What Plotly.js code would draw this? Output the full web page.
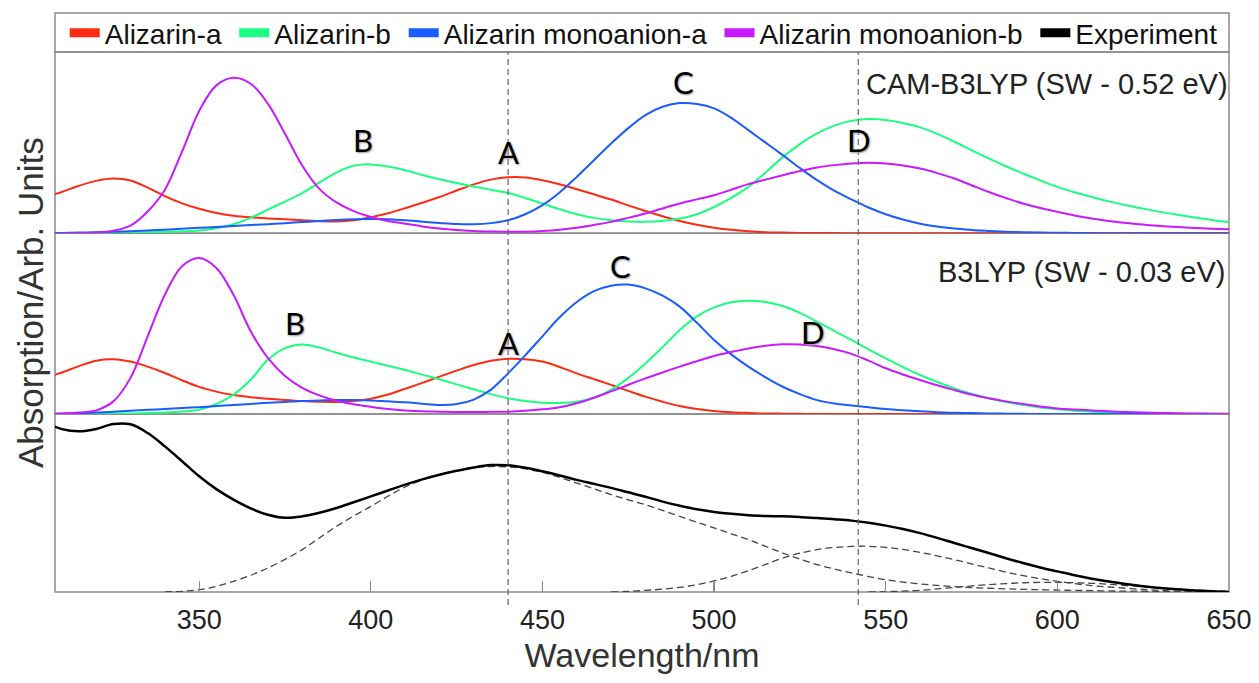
<!DOCTYPE html>
<html>
<head>
<meta charset="utf-8">
<script src="https://cdn.plot.ly/plotly-3.0.1.min.js"></script>
<style>html,body{margin:0;padding:0;background:#fff;}#chart{width:1259px;height:683px;}</style>
</head>
<body>
<div id="chart"></div>
<script>
// ---- Data ----
const seriesNames = ["Alizarin-a", "Alizarin-b", "Alizarin monoanion-a", "Alizarin monoanion-b", "Experiment"];
const panelLabels = ["CAM-B3LYP (SW - 0.52 eV)", "B3LYP (SW - 0.03 eV)"];
const peakLetters = ["A", "B", "C", "D"];
const markerWavelengths = [440, 542];
const tickWavelengths = [350, 400, 450, 500, 550, 600, 650];

const wl = [305, 310, 315, 320, 325, 330, 335, 340, 345, 350, 355, 360, 365, 370, 375, 380, 385, 390, 395, 400,
            405, 410, 415, 420, 425, 430, 435, 440, 445, 450, 455, 460, 465, 470, 475, 480, 485, 490, 495, 500,
            505, 510, 515, 520, 525, 530, 535, 540, 545, 550, 555, 560, 565, 570, 575, 580, 585, 590, 595, 600,
            605, 610, 615, 620, 625, 630, 635, 640, 645, 650];

// CAM-B3LYP panel
const camRed = [0.200, 0.228, 0.262, 0.289, 0.302, 0.291, 0.252, 0.205, 0.165, 0.135, 0.112, 0.097, 0.088, 0.082, 0.077, 0.072, 0.067, 0.065, 0.072, 0.088,
                0.110, 0.138, 0.168, 0.200, 0.236, 0.270, 0.296, 0.309, 0.308, 0.293, 0.270, 0.243, 0.215, 0.186, 0.154, 0.123, 0.094, 0.068, 0.047, 0.031,
                0.019, 0.011, 0.006, 0.004, 0.002, 0.001, 0.001, 0, 0, 0, 0, 0, 0, 0, 0, 0, 0, 0, 0, 0,
                0, 0, 0, 0, 0, 0, 0, 0, 0, 0];
const camGreen = [0, 0, 0, 0.001, 0.002, 0.003, 0.005, 0.008, 0.011, 0.016, 0.028, 0.050, 0.085, 0.130, 0.175, 0.222, 0.280, 0.335, 0.372, 0.380,
                  0.368, 0.348, 0.322, 0.298, 0.277, 0.258, 0.240, 0.222, 0.195, 0.164, 0.133, 0.105, 0.085, 0.072, 0.065, 0.063, 0.068, 0.081, 0.105, 0.145,
                  0.195, 0.256, 0.335, 0.420, 0.492, 0.551, 0.594, 0.620, 0.630, 0.625, 0.608, 0.584, 0.548, 0.505, 0.459, 0.413, 0.370, 0.330, 0.292, 0.256,
                  0.226, 0.200, 0.176, 0.155, 0.136, 0.118, 0.102, 0.087, 0.073, 0.061];
const camBlue = [0, 0.002, 0.004, 0.006, 0.008, 0.011, 0.015, 0.020, 0.025, 0.030, 0.035, 0.040, 0.045, 0.050, 0.056, 0.062, 0.068, 0.073, 0.077, 0.079,
                 0.077, 0.072, 0.064, 0.057, 0.051, 0.050, 0.056, 0.072, 0.105, 0.155, 0.225, 0.311, 0.403, 0.495, 0.580, 0.652, 0.698, 0.718, 0.713, 0.689,
                 0.637, 0.569, 0.500, 0.431, 0.360, 0.293, 0.235, 0.187, 0.142, 0.105, 0.076, 0.053, 0.037, 0.026, 0.018, 0.013, 0.009, 0.006, 0.004, 0.003,
                 0.002, 0.001, 0, 0, 0, 0, 0, 0, 0, 0];
const camMagenta = [0, 0, 0.001, 0.004, 0.014, 0.042, 0.120, 0.240, 0.450, 0.675, 0.816, 0.858, 0.825, 0.715, 0.549, 0.374, 0.245, 0.170, 0.122, 0.090,
                    0.068, 0.053, 0.038, 0.026, 0.018, 0.013, 0.010, 0.008, 0.009, 0.013, 0.020, 0.031, 0.046, 0.063, 0.085, 0.109, 0.137, 0.164, 0.187, 0.210,
                    0.240, 0.271, 0.296, 0.320, 0.343, 0.363, 0.376, 0.385, 0.389, 0.385, 0.374, 0.357, 0.332, 0.302, 0.265, 0.228, 0.195, 0.164, 0.139, 0.118,
                    0.098, 0.081, 0.068, 0.057, 0.048, 0.040, 0.034, 0.029, 0.025, 0.022];

// B3LYP panel
const b3Red = [0.200, 0.230, 0.265, 0.295, 0.303, 0.290, 0.262, 0.227, 0.187, 0.150, 0.124, 0.105, 0.093, 0.085, 0.078, 0.072, 0.068, 0.066, 0.072, 0.085,
               0.108, 0.140, 0.172, 0.207, 0.240, 0.271, 0.295, 0.306, 0.303, 0.290, 0.260, 0.225, 0.193, 0.161, 0.128, 0.096, 0.068, 0.044, 0.028, 0.017,
               0.010, 0.006, 0.003, 0.002, 0.001, 0, 0, 0, 0, 0, 0, 0, 0, 0, 0, 0, 0, 0, 0, 0,
               0, 0, 0, 0, 0, 0, 0, 0, 0, 0];
const b3Green = [0, 0, 0, 0.001, 0.002, 0.003, 0.005, 0.008, 0.014, 0.024, 0.055, 0.107, 0.190, 0.300, 0.365, 0.385, 0.368, 0.339, 0.313, 0.290,
                 0.267, 0.244, 0.218, 0.192, 0.164, 0.137, 0.110, 0.087, 0.072, 0.063, 0.061, 0.068, 0.090, 0.133, 0.200, 0.280, 0.370, 0.465, 0.540, 0.590,
                 0.618, 0.627, 0.620, 0.598, 0.560, 0.511, 0.460, 0.410, 0.358, 0.308, 0.260, 0.216, 0.177, 0.142, 0.112, 0.087, 0.066, 0.050, 0.036, 0.026,
                 0.018, 0.013, 0.009, 0.007, 0.005, 0.003, 0.002, 0.001, 0.001, 0];
const b3Blue = [0, 0.002, 0.005, 0.008, 0.013, 0.018, 0.023, 0.028, 0.033, 0.038, 0.044, 0.050, 0.056, 0.062, 0.067, 0.072, 0.075, 0.077, 0.077, 0.075,
                0.070, 0.065, 0.057, 0.050, 0.055, 0.080, 0.135, 0.225, 0.325, 0.430, 0.535, 0.620, 0.680, 0.710, 0.716, 0.695, 0.655, 0.594, 0.505, 0.410,
                0.330, 0.262, 0.203, 0.151, 0.110, 0.077, 0.058, 0.047, 0.037, 0.028, 0.021, 0.015, 0.010, 0.007, 0.005, 0.003, 0.002, 0.001, 0, 0,
                0, 0, 0, 0, 0, 0, 0, 0, 0, 0];
const b3Magenta = [0, 0.003, 0.008, 0.020, 0.070, 0.200, 0.430, 0.660, 0.817, 0.863, 0.808, 0.660, 0.458, 0.310, 0.210, 0.145, 0.103, 0.073, 0.054, 0.040,
                   0.028, 0.020, 0.015, 0.013, 0.011, 0.011, 0.012, 0.013, 0.018, 0.026, 0.038, 0.060, 0.090, 0.125, 0.162, 0.197, 0.230, 0.262, 0.292, 0.321,
                   0.343, 0.363, 0.378, 0.386, 0.385, 0.376, 0.358, 0.333, 0.295, 0.253, 0.219, 0.188, 0.159, 0.133, 0.108, 0.087, 0.070, 0.055, 0.042, 0.031,
                   0.025, 0.020, 0.015, 0.011, 0.008, 0.006, 0.004, 0.003, 0.002, 0.002];

// Experiment panel
const experiment = [0.955, 0.915, 0.903, 0.916, 0.944, 0.942, 0.893, 0.818, 0.735, 0.650, 0.578, 0.519, 0.470, 0.434, 0.417, 0.425, 0.445, 0.472, 0.504, 0.537,
                    0.570, 0.603, 0.633, 0.659, 0.681, 0.700, 0.713, 0.712, 0.698, 0.678, 0.655, 0.630, 0.608, 0.585, 0.560, 0.535, 0.508, 0.485, 0.465, 0.450,
                    0.439, 0.431, 0.427, 0.425, 0.421, 0.416, 0.409, 0.401, 0.389, 0.373, 0.354, 0.331, 0.304, 0.275, 0.247, 0.219, 0.190, 0.163, 0.138, 0.116,
                    0.094, 0.075, 0.059, 0.045, 0.032, 0.022, 0.015, 0.009, 0.004, 0.000];
const wlFit1 = [340, 345, 350, 355, 360, 365, 370, 375, 380, 385, 390, 395, 400, 405, 410, 415, 420, 425, 430, 435, 440, 445, 450, 455, 460, 465,
                470, 475, 480, 485, 490, 495, 500, 505, 510, 515, 520, 525, 530, 535, 540, 545, 550, 555, 560, 565, 570, 575, 580, 585, 590, 595,
                600, 605, 610, 615, 620, 625, 630, 635, 640];
const fit1 = [0, 0.004, 0.013, 0.032, 0.060, 0.094, 0.135, 0.183, 0.238, 0.303, 0.369, 0.427, 0.481, 0.538, 0.590, 0.630, 0.659, 0.681, 0.697, 0.705, 0.703, 0.692, 0.672, 0.645, 0.612, 0.580,
              0.547, 0.518, 0.490, 0.458, 0.425, 0.392, 0.360, 0.327, 0.294, 0.256, 0.219, 0.185, 0.154, 0.129, 0.107, 0.087, 0.069, 0.056, 0.045, 0.037, 0.030, 0.025, 0.021, 0.018, 0.015, 0.013,
              0.011, 0.009, 0.008, 0.006, 0.005, 0.004, 0.003, 0.001, 0];
const wlFit2 = [470, 475, 480, 485, 490, 495, 500, 505, 510, 515, 520, 525, 530, 535, 540, 545, 550, 555, 560, 565, 570, 575, 580, 585, 590, 595,
                600, 605, 610, 615, 620, 625, 630, 635, 640, 645, 650];
const fit2 = [0, 0.003, 0.009, 0.016, 0.026, 0.041, 0.062, 0.088, 0.120, 0.155, 0.191, 0.218, 0.238, 0.250, 0.256, 0.257, 0.251, 0.239, 0.223, 0.203, 0.182, 0.158, 0.135, 0.112, 0.092, 0.075,
              0.060, 0.047, 0.036, 0.028, 0.021, 0.014, 0.009, 0.005, 0.002, 0.001, 0];
const wlFit3 = [545, 550, 555, 560, 565, 570, 575, 580, 585, 590, 595, 600, 605, 610, 615, 620, 625, 630, 635, 640, 645, 650];
const fit3 = [0, 0.002, 0.005, 0.009, 0.017, 0.026, 0.034, 0.041, 0.047, 0.052, 0.054, 0.054, 0.052, 0.049, 0.043, 0.036, 0.029, 0.022, 0.016, 0.011, 0.007, 0.004];

// ---- Styles ----
const colors = ["#ff2a12", "#1aff80", "#1a5cff", "#c81aff", "#000000"];
const TXT = "Liberation Sans, Arial, sans-serif";
const LETTER = "Lato, Open Sans, sans-serif";
const frameColor = "#8a8a8a";

function curve(x, y, color, yaxis) {
  return {x: x, y: y, xaxis: "x", yaxis: yaxis, type: "scatter", mode: "lines",
    line: {color: color, width: 2, shape: "spline", smoothing: 1},
    showlegend: false, hoverinfo: "skip"};
}
function fit(x, y) {
  return {x: x, y: y, xaxis: "x", yaxis: "y", type: "scatter", mode: "lines",
    line: {color: "#444", width: 1.3, dash: "7px,4px", shape: "spline", smoothing: 1},
    showlegend: false, hoverinfo: "skip"};
}

const traces = [
  curve(wl, camRed, colors[0], "y3"),
  curve(wl, camGreen, colors[1], "y3"),
  curve(wl, camBlue, colors[2], "y3"),
  curve(wl, camMagenta, colors[3], "y3"),
  curve(wl, b3Red, colors[0], "y2"),
  curve(wl, b3Green, colors[1], "y2"),
  curve(wl, b3Blue, colors[2], "y2"),
  curve(wl, b3Magenta, colors[3], "y2"),
  fit(wlFit1, fit1), fit(wlFit2, fit2), fit(wlFit3, fit3),
  {x: wl, y: experiment, xaxis: "x", yaxis: "y", type: "scatter", mode: "lines",
   line: {color: "#000", width: 2.5, shape: "spline", smoothing: 1}, showlegend: false, hoverinfo: "skip"}
];
// legend entries (swatches only); a trailing no-break space widens the gap between entries
seriesNames.forEach((n, i) => {
  traces.push({x: [null], y: [null], xaxis: "x", yaxis: "y3", type: "scatter", mode: "lines",
    name: i < seriesNames.length - 1 ? n + "\u00a0" : n, line: {color: colors[i], width: 9}, showlegend: true});
});

const dBot = [0, 0.3296], dMid = [0.3296, 0.6643], dTop = [0.6643, 1];
const shapes = [];
[dBot, dMid, dTop].forEach(d => shapes.push({type: "rect", xref: "paper", yref: "paper",
  x0: 0, x1: 1, y0: d[0], y1: d[1], line: {color: frameColor, width: 1.5}, layer: "below"}));
shapes.push({type: "rect", xref: "paper", yref: "paper", x0: 0, x1: 1, y0: 1, y1: 1.0722,
  line: {color: frameColor, width: 1.5}, layer: "below"});
markerWavelengths.forEach(w => shapes.push({type: "line", xref: "x", yref: "paper",
  x0: w, x1: w, y0: -0.024, y1: 1, line: {color: "#666", width: 1.2, dash: "6px,4px"}, layer: "above"}));

function letter(t, x, y, yref) {
  return {text: t, x: x, y: y, xref: "x", yref: yref, showarrow: false,
    font: {family: LETTER, size: 31, color: "#000", shadow: "1px 1px 2px #999"}};
}
const annotations = [
  letter(peakLetters[1], 397.8, 0.514, "y3"),
  letter(peakLetters[0], 440.1, 0.448, "y3"),
  letter(peakLetters[2], 491.1, 0.834, "y3"),
  letter(peakLetters[3], 542.1, 0.514, "y3"),
  letter(peakLetters[1], 378.0, 0.504, "y2"),
  letter(peakLetters[0], 440.1, 0.393, "y2"),
  letter(peakLetters[2], 472.7, 0.819, "y2"),
  letter(peakLetters[3], 528.7, 0.454, "y2"),
  {text: panelLabels[0], xref: "paper", yref: "y3", x: 1, y: 0.823, xanchor: "right", xshift: 1,
   showarrow: false, font: {family: TXT, size: 29, color: "#222"}},
  {text: panelLabels[1], xref: "paper", yref: "y2", x: 1, y: 0.786, xanchor: "right", xshift: -2,
   showarrow: false, font: {family: TXT, size: 29, color: "#222"}},
  {text: "Absorption/Arb. Units", xref: "paper", yref: "paper", x: -0.0213, y: 0.537,
   xanchor: "center", yanchor: "middle",
   textangle: -90, showarrow: false, font: {family: TXT, size: 35, color: "#333"}}
];

const layout = {
  width: 1259, height: 683,
  margin: {l: 55, r: 30, t: 52, b: 91, autoexpand: false},
  paper_bgcolor: "#fff", plot_bgcolor: "rgba(0,0,0,0)",
  showlegend: true,
  legend: {orientation: "h", x: 0.0083, xanchor: "left", y: 0.989, yanchor: "bottom",
    font: {family: TXT, size: 28, color: "#111"}, bgcolor: "rgba(0,0,0,0)", borderwidth: 0,
    itemwidth: 30, tracegroupgap: 0, itemclick: false, itemdoubleclick: false},
  xaxis: {domain: [0, 1], range: [308, 650], anchor: "y", tickvals: tickWavelengths,
    ticks: "inside", ticklen: 11, tickcolor: frameColor, tickwidth: 1.2,
    showgrid: false, zeroline: false, showline: false,
    tickfont: {family: TXT, size: 27, color: "#222"}, ticklabelstandoff: 9,
    title: {text: "Wavelength/nm", font: {family: TXT, size: 34, color: "#333"}, standoff: 9}},
  yaxis: {domain: dBot, range: [0, 1], visible: false, fixedrange: true},
  yaxis2: {domain: dMid, range: [0, 1], visible: false, fixedrange: true},
  yaxis3: {domain: dTop, range: [0, 1], visible: false, fixedrange: true},
  shapes: shapes,
  annotations: annotations
};

Plotly.newPlot("chart", traces, layout, {displayModeBar: false, staticPlot: true});
</script>
</body>
</html>
